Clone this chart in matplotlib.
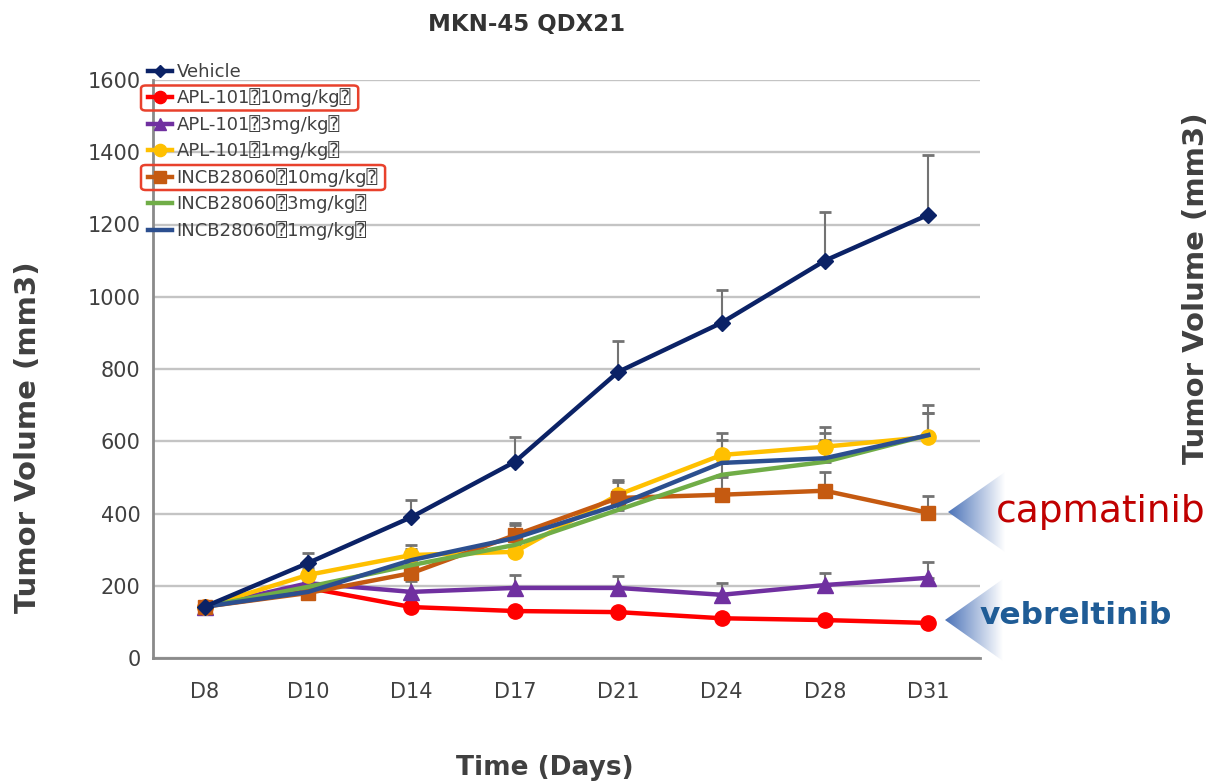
import numpy as np
import matplotlib
matplotlib.use("Agg")
import matplotlib.pyplot as plt
from matplotlib.patches import Polygon, FancyBboxPatch
from matplotlib.colors import LinearSegmentedColormap

plt.rcParams['font.family'] = ['DejaVu Sans', 'DejaVu Sans Mono']

days = ["D8", "D10", "D14", "D17", "D21", "D24", "D28", "D31"]
q = "\u2370"
labels = ["Vehicle",
          f"APL-101{q}10mg/kg{q}",
          f"APL-101{q}3mg/kg{q}",
          f"APL-101{q}1mg/kg{q}",
          f"INCB28060{q}10mg/kg{q}",
          f"INCB28060{q}3mg/kg{q}",
          f"INCB28060{q}1mg/kg{q}"]

vehicle = [142, 263, 390, 543, 792, 928, 1100, 1227]
vehicle_err = [8, 28, 48, 69, 86, 90, 135, 166]
apl_10 = [142, 194, 141, 130, 127, 110, 105, 97]
apl_10_err = [8, 12, 10, 10, 12, 12, 12, 10]
apl_3 = [142, 207, 183, 194, 194, 175, 202, 222]
apl_3_err = [8, 20, 30, 36, 33, 33, 33, 44]
apl_1 = [142, 230, 285, 294, 452, 562, 585, 612]
apl_1_err = [8, 20, 28, 35, 42, 61, 55, 89]
incb_10 = [142, 180, 235, 340, 443, 452, 463, 402]
incb_10_err = [8, 15, 30, 33, 45, 50, 53, 46]
incb_3 = [142, 197, 257, 313, 410, 507, 543, 617]
incb_3_err = [8, 15, 30, 35, 40, 55, 60, 61]
incb_1 = [142, 183, 271, 332, 424, 540, 553, 617]
incb_1_err = [8, 15, 30, 35, 40, 64, 69, 61]

series = [vehicle, apl_10, apl_3, apl_1, incb_10, incb_3, incb_1]
errors = [vehicle_err, apl_10_err, apl_3_err, apl_1_err, incb_10_err, incb_3_err, incb_1_err]
colors = ["#0b2266", "#ff0000", "#7030a0", "#ffc000", "#c55a11", "#70ad47", "#2c4f8f"]
markers = ["D", "o", "^", "o", "s", None, None]
msizes = [8, 11, 11, 11, 10, 0, 0]

fig = plt.figure(figsize=(12.10, 7.84), dpi=100)
ax = fig.add_axes([153/1210, 1-658/784, (980-153)/1210, (658-80)/784])
ax.patch.set_alpha(0)

x = np.arange(len(days))
for i in range(len(series)):
    y = np.array(series[i])
    e = np.array(errors[i])
    ax.errorbar(x, y, yerr=[np.zeros_like(e), e], fmt="none", ecolor="#737373",
                elinewidth=1.5, capsize=4, capthick=2, zorder=2)
for i in range(len(series)):
    ax.plot(x, series[i], color=colors[i], lw=3.2, marker=markers[i],
            ms=msizes[i], label=labels[i], zorder=3 + (i if i else 10))

ax.set_xlim(-0.5, len(days) - 0.5)
ax.set_ylim(0, 1600)
ax.set_yticks(range(0, 1601, 200))
ax.set_xticks(x)
ax.set_xticklabels(days)
ax.tick_params(length=0, labelsize=15, colors="#404040")
ax.tick_params(axis="x", pad=17)
ax.tick_params(axis="y", pad=9)
ax.grid(axis="y", color="#c4c4c4", lw=1.7)
ax.set_axisbelow(True)
for s in ["top", "right"]:
    ax.spines[s].set_visible(False)
for s in ["left", "bottom"]:
    ax.spines[s].set_color("#8a8a8a")
    ax.spines[s].set_linewidth(2)

leg = ax.legend(loc="upper left", bbox_to_anchor=(-0.015, 1.042), frameon=False,
                fontsize=13, labelcolor="#404040", handlelength=1.35,
                handletextpad=0.25, labelspacing=0.42, borderaxespad=0,
                markerscale=0.8)

fig.text(527/1210, 1-25/784, "MKN-45 QDX21", ha="center", va="center",
         fontsize=16.5, fontweight="bold", color="#333333")
fig.text(28/1210, 1-437/784, "Tumor Volume (mm3)", ha="center", va="center",
         rotation=90, fontsize=21, fontweight="bold", color="#404040")
fig.text(545/1210, 1-768/784, "Time (Days)", ha="center", va="center",
         fontsize=19, fontweight="bold", color="#404040")
fig.text(1196/1210, 1-288/784, "Tumor Volume (mm3)", ha="center", va="center",
         rotation=90, fontsize=21, fontweight="bold", color="#404040")

# red boxes round the two 10 mg/kg entries
fig.canvas.draw()
r = fig.canvas.get_renderer()
for k in [1, 4]:
    bb = leg.get_texts()[k].get_window_extent(r)
    x0 = 141
    x1 = bb.x1 + 7
    yc = (bb.y0 + bb.y1) / 2
    box = FancyBboxPatch((x0/1210, (yc-12.5)/784), (x1-x0)/1210, 25/784,
                         boxstyle="round,pad=0,rounding_size=0.004",
                         transform=fig.transFigure, fill=False,
                         edgecolor="#e8412c", lw=1.8, zorder=20)
    fig.add_artist(box)

# gradient arrows and drug names
over = fig.add_axes([0, 0, 1, 1], zorder=5)
over.patch.set_alpha(0)
over.axis("off")
grad = np.linspace(0, 1, 256)[None, :]
cmap = LinearSegmentedColormap.from_list("fade", ["#4a72b8", "#ffffff"])
for tip_x, tip_y, base_x, half in [(948, 512, 1005, 40), (945, 620, 1003, 41)]:
    tri = Polygon([[tip_x, tip_y], [base_x, tip_y - half], [base_x, tip_y + half]],
                  closed=True, transform=over.transData, facecolor="none", edgecolor="none")
    over.add_patch(tri)
    im = over.imshow(grad, cmap=cmap, extent=[tip_x, base_x, tip_y + half, tip_y - half],
                     aspect="auto")
    im.set_clip_path(tri)
over.set_xlim(0, 1210)
over.set_ylim(784, 0)

fig.text(1101/1210, 1-512/784, "capmatinib", ha="center", va="center",
         fontsize=27, color="#c00000", zorder=6)
fig.text(1076/1210, 1-615/784, "vebreltinib", ha="center", va="center",
         fontsize=22.5, fontweight="bold", color="#1f5c96", zorder=6)

fig.savefig("out.png", dpi=100)
